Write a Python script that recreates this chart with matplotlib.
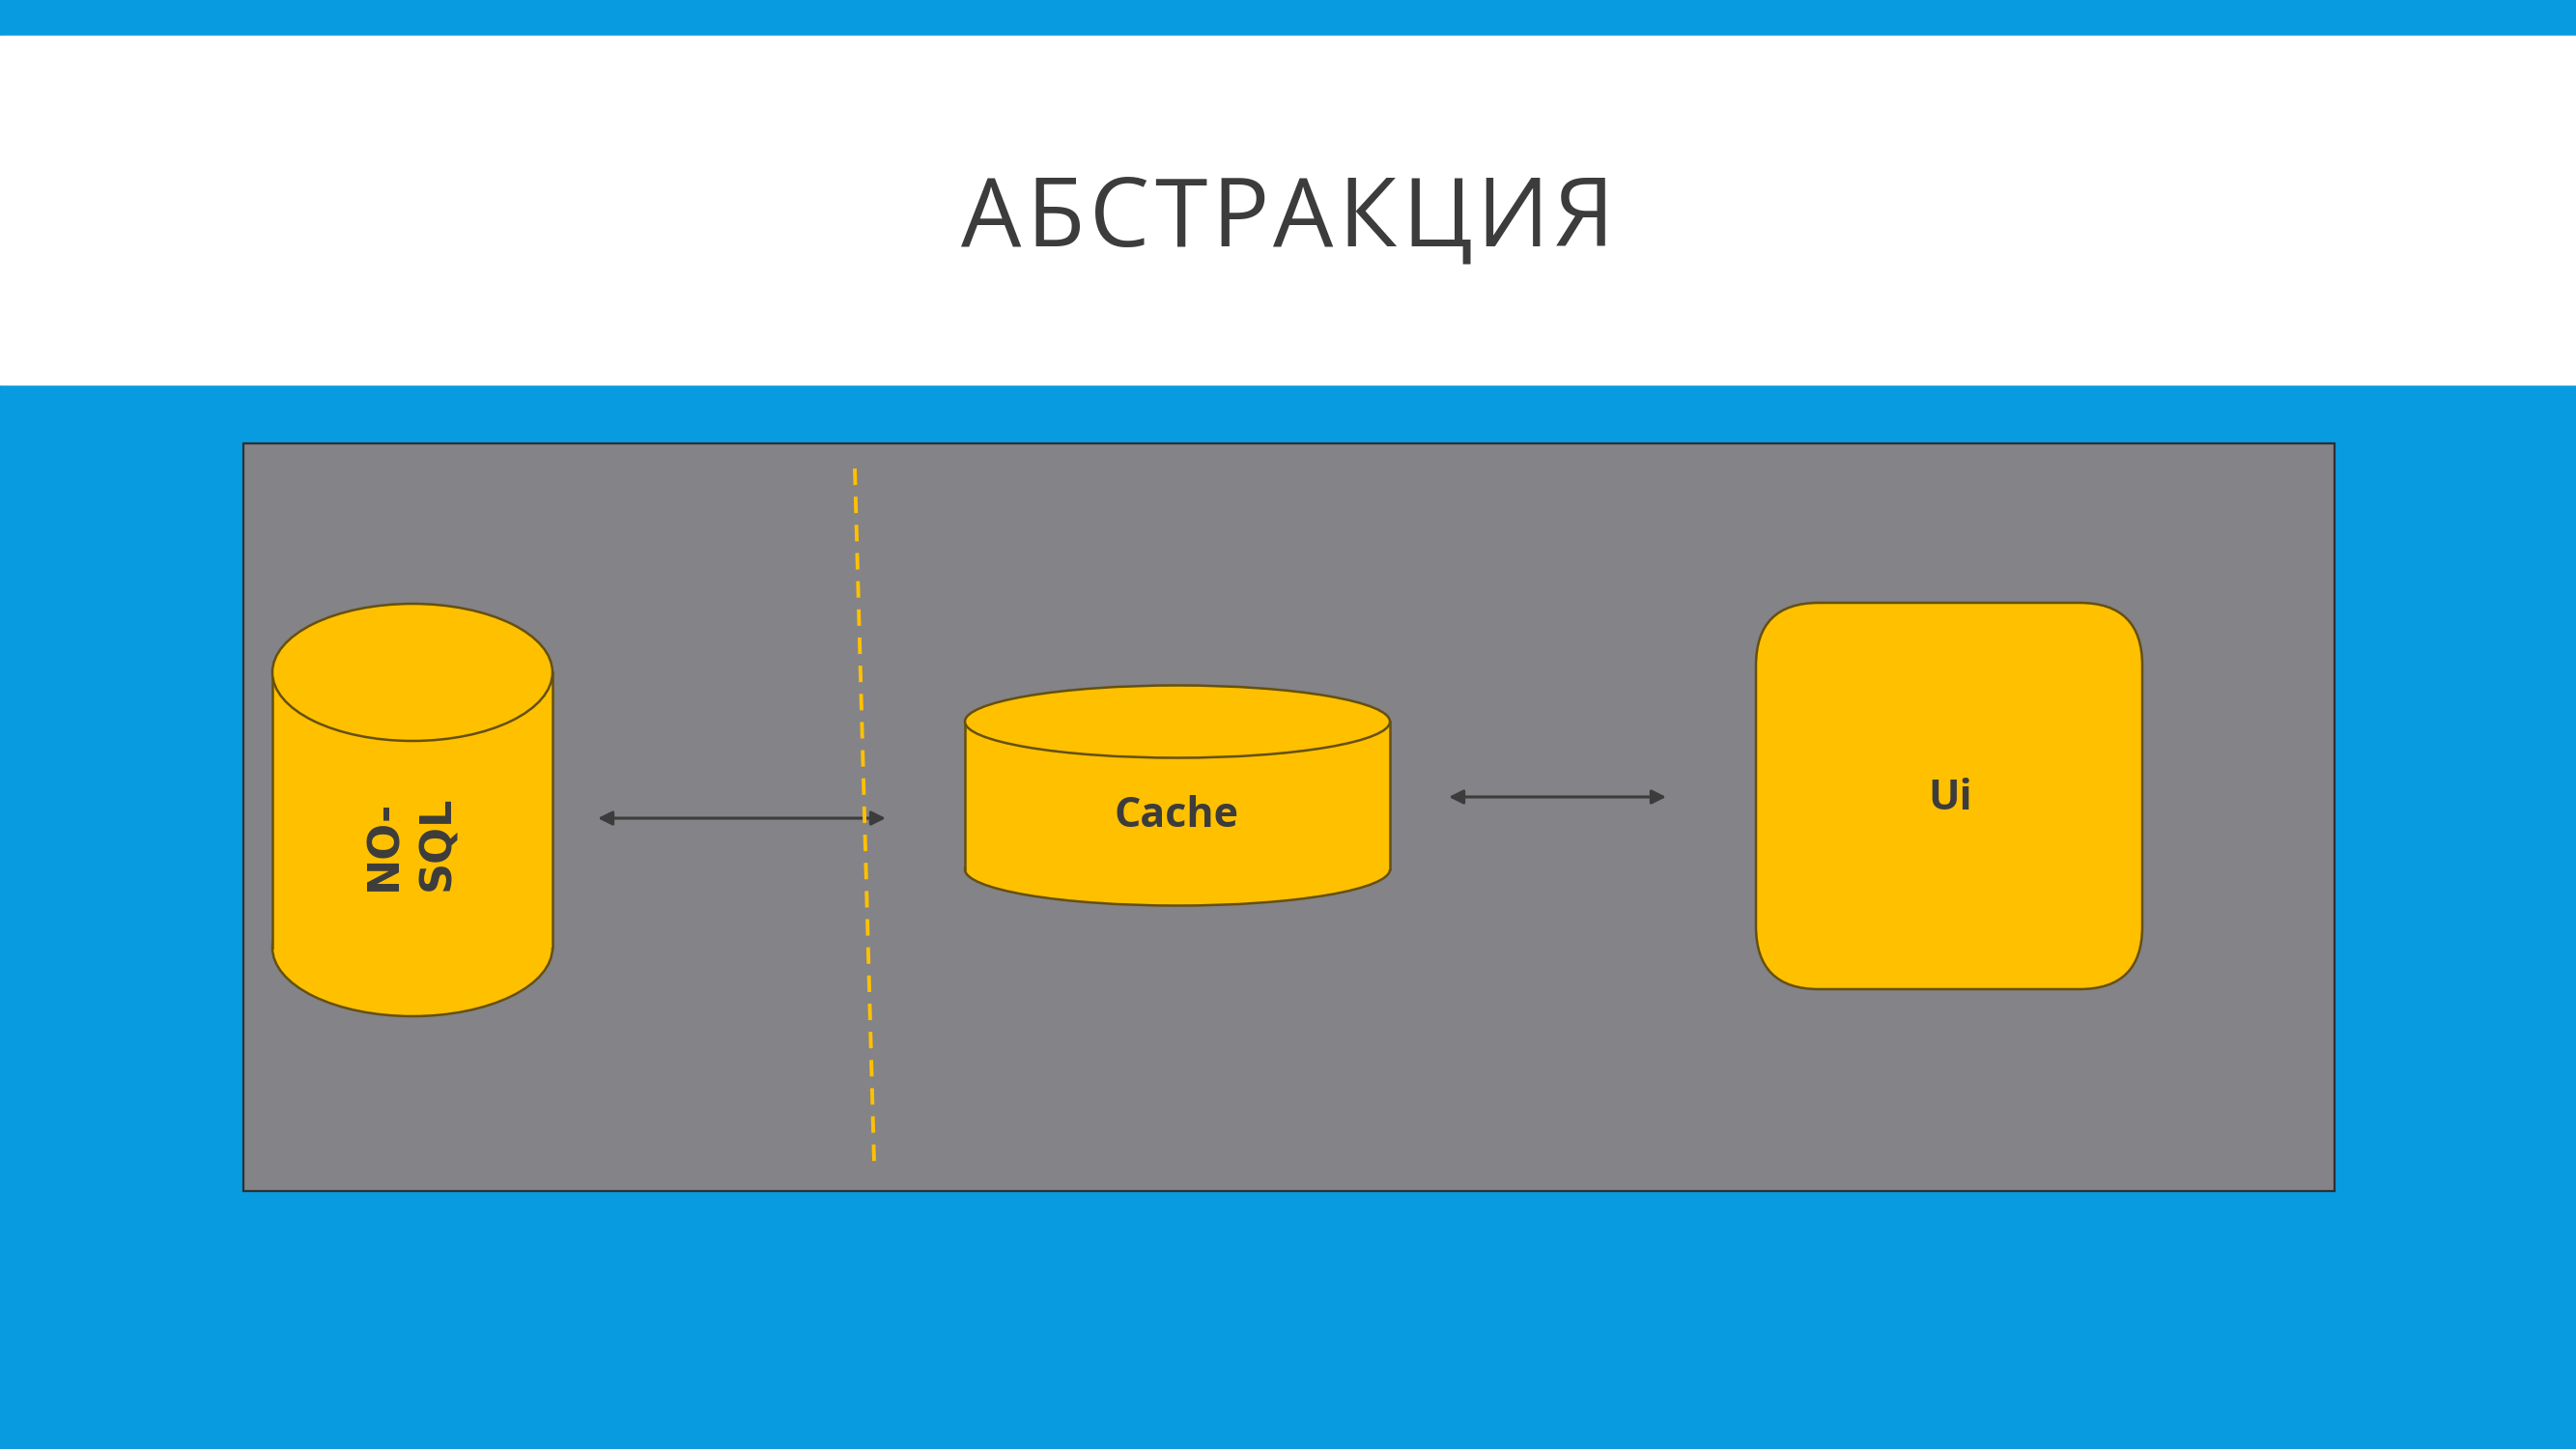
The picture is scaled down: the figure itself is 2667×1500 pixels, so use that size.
import matplotlib.pyplot as plt
from matplotlib.patches import Rectangle, Ellipse, FancyBboxPatch, FancyArrowPatch

# slide texts
title = "АБСТРАКЦИЯ"
labels = ["NO-\nSQL", "Cache", "Ui"]

blue = "#089be0"
grey = "#838388"
yellow = "#ffc000"
edge = "#65500f"
dark = "#3c3c3c"

fig = plt.figure(figsize=(26.67, 15), dpi=100)
ax = fig.add_axes([0, 0, 1, 1])
ax.set_xlim(0, 2667)
ax.set_ylim(1500, 0)
ax.axis("off")

# background bands
ax.add_patch(Rectangle((0, 0), 2667, 1500, color=blue, zorder=0))
ax.add_patch(Rectangle((0, 37), 2667, 361, color="white", zorder=1))

# title with a little letter spacing
fig.canvas.draw()
renderer = fig.canvas.get_renderer()
tracking = 5
widths = []
for ch in title:
    t = ax.text(0, 0, ch, fontsize=71, family="Open Sans")
    widths.append(t.get_window_extent(renderer).width)
    t.remove()
total = sum(widths) + tracking * (len(title) - 1)
x = 1333 - total / 2
for ch, w in zip(title, widths):
    ax.text(x, 255, ch, fontsize=71, family="Open Sans", color=dark,
            ha="left", va="baseline", zorder=2)
    x += w + tracking

# grey panel
ax.add_patch(Rectangle((252, 459), 2165, 774, facecolor=grey, edgecolor="#2f2f33",
                       lw=1.6, zorder=2))


def cylinder(x0, x1, ytop, ybot, ry):
    cx = (x0 + x1) / 2
    w = x1 - x0
    ax.add_patch(Ellipse((cx, ybot), w, 2 * ry, facecolor=yellow, edgecolor=edge, lw=1.8, zorder=3))
    ax.add_patch(Rectangle((x0, ytop), w, ybot - ytop, facecolor=yellow, edgecolor="none", zorder=4))
    ax.plot([x0, x0], [ytop, ybot], color=edge, lw=1.8, zorder=5)
    ax.plot([x1, x1], [ytop, ybot], color=edge, lw=1.8, zorder=5)
    ax.add_patch(Ellipse((cx, ytop), w, 2 * ry, facecolor=yellow, edgecolor=edge, lw=1.8, zorder=6))


cylinder(282, 572, 696, 981, 71)
cylinder(999, 1439, 747, 900, 37.5)

ax.add_patch(FancyBboxPatch((1818, 624), 400, 400, boxstyle="round,pad=0,rounding_size=65",
                            facecolor=yellow, edgecolor=edge, lw=1.8, zorder=3))

# labels
ax.text(425, 873, labels[0], rotation=90, fontsize=32, family="DejaVu Sans", weight="bold",
        color=dark, ha="center", va="center", multialignment="left",
        linespacing=1.35, zorder=7)
ax.text(1218, 845, labels[1], fontsize=31, family="Open Sans", weight="bold",
        color=dark, ha="center", va="center", zorder=7)
ax.text(2019, 826, labels[2], fontsize=31, family="Open Sans", weight="bold",
        color=dark, ha="center", va="center", zorder=7)

# arrows
for xa, xb, ya in [(619, 917, 847), (1500, 1725, 825)]:
    ax.add_patch(FancyArrowPatch((xa, ya), (xb, ya), arrowstyle="<|-|>", mutation_scale=22,
                                 color=dark, lw=2.2, shrinkA=0, shrinkB=0, zorder=8))

# dashed boundary
ax.plot([885, 905], [485, 1203], color=yellow, lw=2.8, dashes=(4.4, 3.1), zorder=9)

fig.savefig("out.png", dpi=100)
